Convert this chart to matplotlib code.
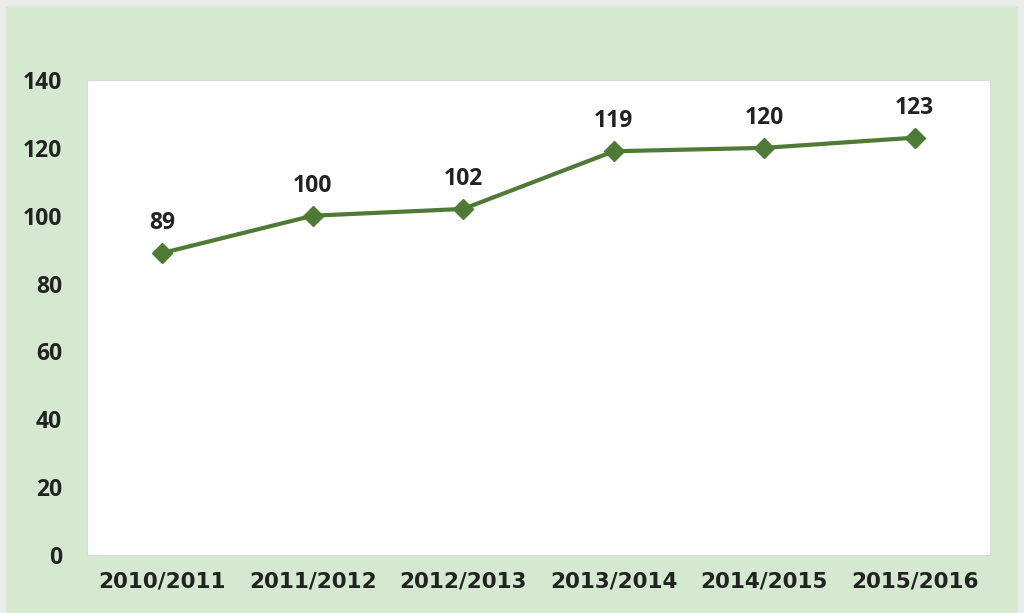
import matplotlib.pyplot as plt
from matplotlib.patches import Rectangle

# data
seasons = ["2010/2011", "2011/2012", "2012/2013", "2013/2014", "2014/2015", "2015/2016"]
values = [89, 100, 102, 119, 120, 123]

green_bg = "#D5E8D0"
line_green = "#4E7A35"
text_col = "#222222"

plt.rcParams["font.family"] = ["Open Sans", "DejaVu Sans"]

fig = plt.figure(figsize=(10.24, 6.13), dpi=100, facecolor="#EBEBEB")
# green chart area inside thin grey frame
fig.patches.append(Rectangle((6 / 1024, 0), 1012 / 1024, 607 / 613,
                             transform=fig.transFigure, facecolor=green_bg,
                             edgecolor="none", zorder=-10))

ax = fig.add_axes([87 / 1024, 1 - 555 / 613, 903 / 1024, 475 / 613])
ax.set_facecolor("white")
ax.set_zorder(1)

x = list(range(len(seasons)))
ax.plot(x, values, color=line_green, linewidth=3, marker="D", markersize=10,
        zorder=3)

for xi, v in zip(x, values):
    ax.annotate(str(v), (xi, v), xytext=(0, 13), textcoords="offset points",
                ha="center", va="bottom", fontsize=16.5, fontweight="bold",
                color=text_col)

ax.set_xlim(-0.5, len(seasons) - 0.5)
ax.set_ylim(0, 140)
ax.set_yticks(range(0, 141, 20))
ax.set_xticks(x)
ax.set_xticklabels(seasons)

ax.tick_params(axis="y", length=0, pad=18, labelsize=16.5, labelcolor=text_col)
ax.tick_params(axis="x", length=0, pad=12, labelcolor=text_col)
for lbl in ax.get_xticklabels():
    lbl.set_fontweight("bold")
    lbl.set_family(["DejaVu Sans"])
    lbl.set_fontsize(15.5)
for lbl in ax.get_yticklabels():
    lbl.set_fontweight("bold")

for s in ax.spines.values():
    s.set_color("#DADADA")
    s.set_linewidth(0.8)

fig.savefig("out.png", dpi=100, facecolor=fig.get_facecolor())
